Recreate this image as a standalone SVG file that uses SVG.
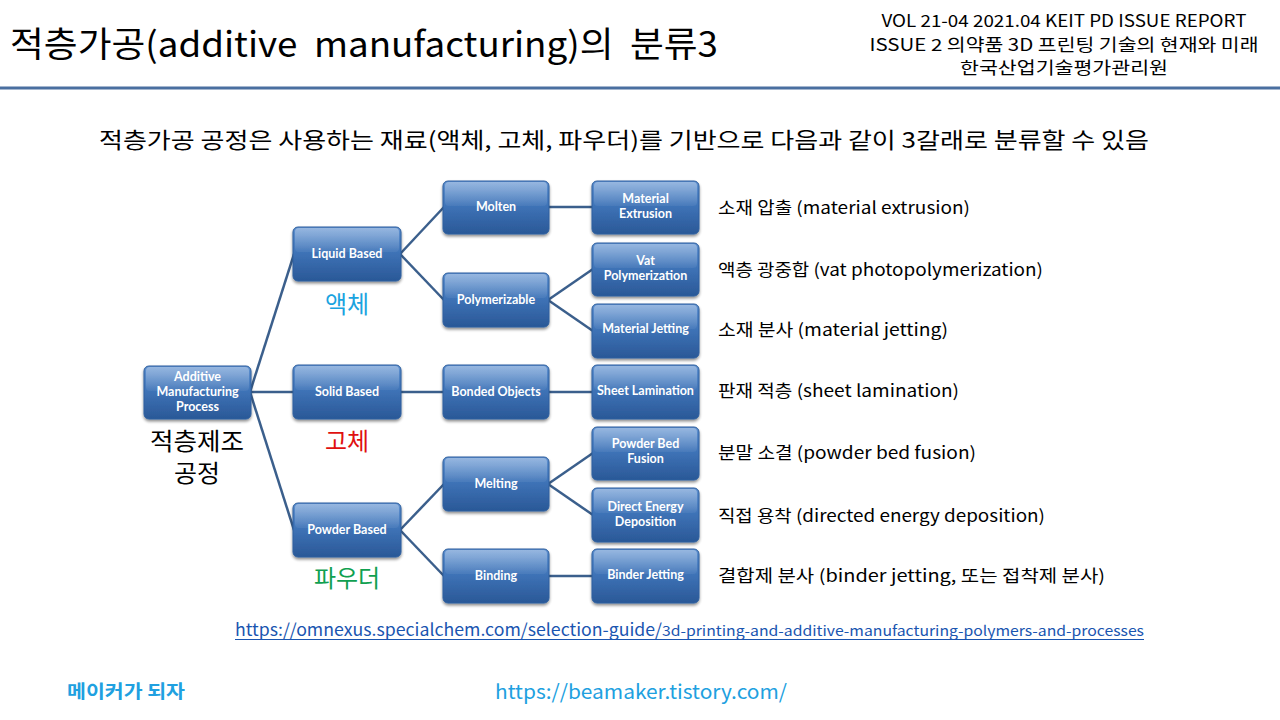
<svg xmlns="http://www.w3.org/2000/svg" width="1280" height="720" viewBox="0 0 1280 720">
<defs>
<linearGradient id="boxg" x1="0" y1="0" x2="0" y2="1">
<stop offset="0" stop-color="#5f91d0"/>
<stop offset="0.45" stop-color="#3f74b8"/>
<stop offset="1" stop-color="#2a5897"/>
</linearGradient>
<linearGradient id="gloss" x1="0" y1="0" x2="0" y2="1">
<stop offset="0" stop-color="#ffffff" stop-opacity="0.35"/>
<stop offset="1" stop-color="#ffffff" stop-opacity="0.05"/>
</linearGradient>
<filter id="sh" x="-10%" y="-10%" width="130%" height="140%">
<feGaussianBlur in="SourceAlpha" stdDeviation="1.5"/>
<feOffset dx="0" dy="2" result="b"/>
<feComponentTransfer><feFuncA type="linear" slope="0.45"/></feComponentTransfer>
<feMerge><feMergeNode/><feMergeNode in="SourceGraphic"/></feMerge>
</filter>
</defs>
<style>
.box{fill:url(#boxg);stroke:#2f5f9e;stroke-width:1;filter:url(#sh)}
.gl{fill:url(#gloss)}
.nt{font-family:Lato,"Open Sans","Liberation Sans",sans-serif;font-weight:bold;font-size:12.5px;fill:#ffffff;text-anchor:middle}
.con line{stroke:#3b5f8c;stroke-width:2.5;fill:none}
.kr{font-family:"Noto Sans CJK KR","Noto Sans",sans-serif}
.desc{font-family:"Noto Sans CJK KR","Noto Sans",sans-serif;font-size:17px;fill:#000}
.lab{font-family:"Noto Sans CJK KR",sans-serif;font-size:24px;text-anchor:middle}
</style>
<rect width="1280" height="720" fill="#ffffff"/>

<g id="header">
<text class="kr" x="10" y="57" font-size="35" fill="#000" textLength="708" lengthAdjust="spacingAndGlyphs">적층가공(additive&#160; manufacturing)의&#160; 분류3</text>
<text class="kr" x="1064" y="27" font-size="17" fill="#000" text-anchor="middle" textLength="365" lengthAdjust="spacingAndGlyphs">VOL 21-04 2021.04 KEIT PD ISSUE REPORT</text>
<text class="kr" x="1064" y="51" font-size="17" fill="#000" text-anchor="middle" textLength="389" lengthAdjust="spacingAndGlyphs">ISSUE 2 의약품 3D 프린팅 기술의 현재와 미래</text>
<text class="kr" x="1064" y="74" font-size="17" fill="#000" text-anchor="middle" textLength="208" lengthAdjust="spacingAndGlyphs">한국산업기술평가관리원</text>
<line x1="0" y1="88" x2="1280" y2="88" stroke="#4a6fa0" stroke-width="3"/>
<text class="kr" x="99" y="148" font-size="22" fill="#000" textLength="1050" lengthAdjust="spacingAndGlyphs">적층가공 공정은 사용하는 재료(액체, 고체, 파우더)를 기반으로 다음과 같이 3갈래로 분류할 수 있음</text>
</g>

<g id="connectors" class="con">
<line x1="250" y1="392" x2="294" y2="254"/>
<line x1="250" y1="392" x2="294" y2="392"/>
<line x1="250" y1="392" x2="294" y2="530"/>
<line x1="400" y1="254" x2="444" y2="207"/>
<line x1="400" y1="254" x2="444" y2="300"/>
<line x1="548" y1="207" x2="593" y2="207"/>
<line x1="548" y1="300" x2="593" y2="269"/>
<line x1="548" y1="300" x2="593" y2="331"/>
<line x1="400" y1="392" x2="444" y2="392"/>
<line x1="548" y1="392" x2="593" y2="392"/>
<line x1="400" y1="530" x2="444" y2="484"/>
<line x1="400" y1="530" x2="444" y2="576"/>
<line x1="548" y1="484" x2="593" y2="453"/>
<line x1="548" y1="484" x2="593" y2="515"/>
<line x1="548" y1="576" x2="593" y2="576"/>
</g>

<g id="n-amp"><rect class="box" x="144" y="366" width="107" height="53" rx="5"/><rect class="gl" x="146" y="367" width="103" height="24" rx="4"/><text class="nt" x="197.5" y="381">Additive</text><text class="nt" x="197.5" y="396">Manufacturing</text><text class="nt" x="197.5" y="411">Process</text></g>
<g id="n-liquid"><rect class="box" x="293" y="227" width="108" height="54" rx="5"/><rect class="gl" x="295" y="228" width="104" height="24" rx="4"/><text class="nt" x="347" y="258">Liquid Based</text></g>
<g id="n-solid"><rect class="box" x="293" y="365" width="108" height="54" rx="5"/><rect class="gl" x="295" y="366" width="104" height="24" rx="4"/><text class="nt" x="347" y="396">Solid Based</text></g>
<g id="n-powder"><rect class="box" x="293" y="503" width="108" height="54" rx="5"/><rect class="gl" x="295" y="504" width="104" height="24" rx="4"/><text class="nt" x="347" y="534">Powder Based</text></g>
<g id="n-molten"><rect class="box" x="443" y="181" width="106" height="53" rx="5"/><rect class="gl" x="445" y="182" width="102" height="24" rx="4"/><text class="nt" x="496" y="211">Molten</text></g>
<g id="n-polym"><rect class="box" x="443" y="273" width="106" height="54" rx="5"/><rect class="gl" x="445" y="274" width="102" height="24" rx="4"/><text class="nt" x="496" y="304">Polymerizable</text></g>
<g id="n-bonded"><rect class="box" x="443" y="365" width="106" height="54" rx="5"/><rect class="gl" x="445" y="366" width="102" height="24" rx="4"/><text class="nt" x="496" y="396">Bonded Objects</text></g>
<g id="n-melting"><rect class="box" x="443" y="457" width="106" height="54" rx="5"/><rect class="gl" x="445" y="458" width="102" height="24" rx="4"/><text class="nt" x="496" y="488">Melting</text></g>
<g id="n-binding"><rect class="box" x="443" y="549" width="106" height="54" rx="5"/><rect class="gl" x="445" y="550" width="102" height="24" rx="4"/><text class="nt" x="496" y="580">Binding</text></g>
<g id="n-mext"><rect class="box" x="592" y="181" width="107" height="53" rx="5"/><rect class="gl" x="594" y="182" width="103" height="24" rx="4"/><text class="nt" x="645.5" y="203">Material</text><text class="nt" x="645.5" y="218">Extrusion</text></g>
<g id="n-vat"><rect class="box" x="592" y="243" width="107" height="53" rx="5"/><rect class="gl" x="594" y="244" width="103" height="24" rx="4"/><text class="nt" x="645.5" y="265">Vat</text><text class="nt" x="645.5" y="280">Polymerization</text></g>
<g id="n-mjet"><rect class="box" x="592" y="304" width="107" height="54" rx="5"/><rect class="gl" x="594" y="305" width="103" height="24" rx="4"/><text class="nt" x="645.5" y="333">Material Jetting</text></g>
<g id="n-sheet"><rect class="box" x="592" y="365" width="107" height="54" rx="5"/><rect class="gl" x="594" y="366" width="103" height="24" rx="4"/><text class="nt" x="645.5" y="395">Sheet Lamination</text></g>
<g id="n-pbf"><rect class="box" x="592" y="427" width="107" height="53" rx="5"/><rect class="gl" x="594" y="428" width="103" height="24" rx="4"/><text class="nt" x="645.5" y="448">Powder Bed</text><text class="nt" x="645.5" y="463">Fusion</text></g>
<g id="n-ded"><rect class="box" x="592" y="488" width="107" height="54" rx="5"/><rect class="gl" x="594" y="489" width="103" height="24" rx="4"/><text class="nt" x="645.5" y="511">Direct Energy</text><text class="nt" x="645.5" y="526">Deposition</text></g>
<g id="n-binder"><rect class="box" x="592" y="549" width="107" height="54" rx="5"/><rect class="gl" x="594" y="550" width="103" height="24" rx="4"/><text class="nt" x="645.5" y="579">Binder Jetting</text></g>

<g id="labels">
<text class="lab" x="347" y="313" fill="#1aa3e0">액체</text>
<text class="lab" x="347" y="450" fill="#e01010">고체</text>
<text class="lab" x="347" y="587" fill="#10a050">파우더</text>
<text class="lab" fill="#000" font-size="20"><tspan x="197" y="450" textLength="94" lengthAdjust="spacingAndGlyphs">적층제조</tspan><tspan x="197" y="482" textLength="46" lengthAdjust="spacingAndGlyphs">공정</tspan></text>
</g>

<g id="descriptions">
<text class="desc" x="718" y="214" textLength="252" lengthAdjust="spacingAndGlyphs">소재 압출 (material extrusion)</text>
<text class="desc" x="718" y="276" textLength="325" lengthAdjust="spacingAndGlyphs">액층 광중합 (vat photopolymerization)</text>
<text class="desc" x="718" y="336" textLength="230" lengthAdjust="spacingAndGlyphs">소재 분사 (material jetting)</text>
<text class="desc" x="718" y="397" textLength="241" lengthAdjust="spacingAndGlyphs">판재 적층 (sheet lamination)</text>
<text class="desc" x="718" y="459" textLength="258" lengthAdjust="spacingAndGlyphs">분말 소결 (powder bed fusion)</text>
<text class="desc" x="718" y="522" textLength="327" lengthAdjust="spacingAndGlyphs">직접 용착 (directed energy deposition)</text>
<text class="desc" x="718" y="582" textLength="387" lengthAdjust="spacingAndGlyphs">결합제 분사 (binder jetting, 또는 접착제 분사)</text>
</g>

<g id="footer">
<text class="kr" x="235" y="636" font-size="17" fill="#1a55b0" textLength="427" lengthAdjust="spacingAndGlyphs">https://omnexus.specialchem.com/selection-guide/</text>
<text class="kr" x="662" y="636" font-size="14" fill="#1a55b0" textLength="482" lengthAdjust="spacingAndGlyphs">3d-printing-and-additive-manufacturing-polymers-and-processes</text>
<line x1="235" y1="639.5" x2="1144" y2="639.5" stroke="#1a55b0" stroke-width="1"/>
<text class="kr" x="67" y="698" font-size="18" font-weight="bold" fill="#20a0e0" textLength="118" lengthAdjust="spacingAndGlyphs">메이커가 되자</text>
<text class="kr" x="495" y="699" font-size="20" fill="#20a0e0" textLength="292" lengthAdjust="spacingAndGlyphs">https://beamaker.tistory.com/</text>
</g>
</svg>
